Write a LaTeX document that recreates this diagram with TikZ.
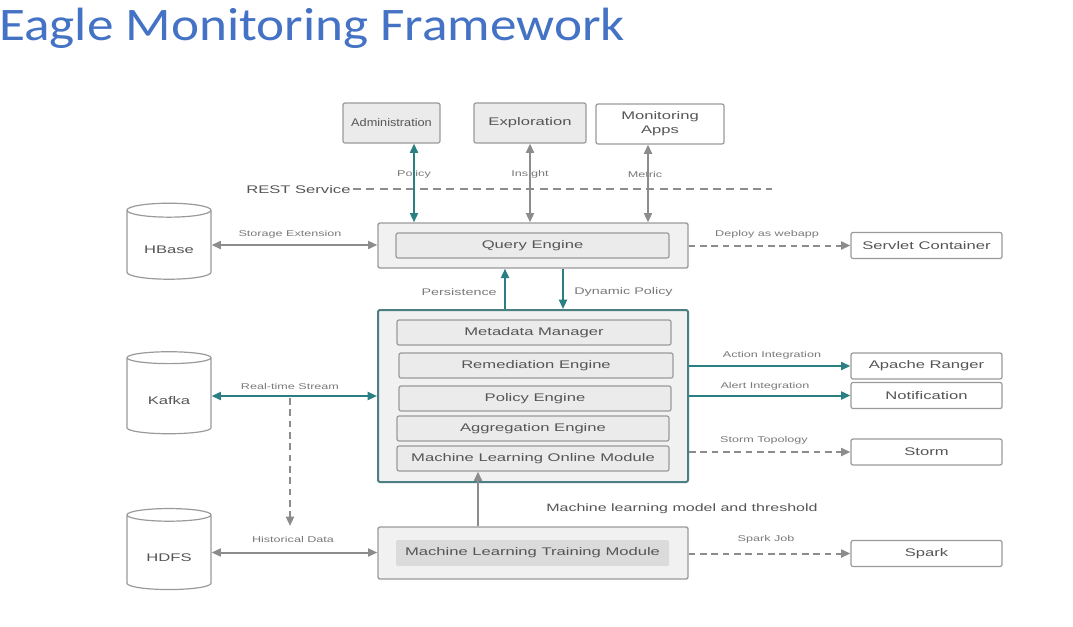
\documentclass[tikz,border=0pt]{standalone}
\usepackage{fontspec}
\setmainfont[FakeStretch=1.5]{Liberation Sans}
\newfontfamily\admfont[FakeStretch=1.15]{Liberation Sans}
\newfontfamily\titlefont[FakeStretch=1.14]{Carlito}
\usetikzlibrary{arrows.meta,shapes.geometric,calc}
\definecolor{teal1}{HTML}{2A7F82}
\definecolor{gline}{HTML}{8C8C8C}
\definecolor{gtext}{HTML}{555555}
\definecolor{ltext}{HTML}{7A7A7A}
\definecolor{boxfill}{HTML}{EBEBEB}
\definecolor{boxdraw}{HTML}{9A9A9A}
\definecolor{titleblue}{HTML}{4472C4}
\newcommand{\cyltext}[1]{\raisebox{-6.5pt}[0pt][0pt]{#1}}
\begin{document}
\begin{tikzpicture}[x=0.75pt,y=-0.75pt,
  box/.style={draw=boxdraw,line width=0.9pt,rounded corners=1.5pt,fill=boxfill,text=gtext,font=\fontsize{8.3}{10.5}\selectfont,inner sep=0pt,align=center},
  wbox/.style={box,fill=white},
  outer/.style={draw=boxdraw,line width=1pt,rounded corners=1.5pt,fill=boxfill!70!white,inner sep=0pt},
  inner/.style={box,fill=boxfill},
  cyl/.style={cylinder,shape border rotate=90,aspect=0.28,draw=boxdraw,line width=0.9pt,fill=white,text=gtext,font=\fontsize{8.3}{9}\selectfont,inner sep=0pt,minimum width=63pt},
  lbl/.style={text=ltext,font=\fontsize{6.3}{7}\selectfont,inner sep=0pt},
  gar/.style={draw=gline,line width=1.5pt,-{Triangle[length=7pt,width=6pt]}},
  gbi/.style={draw=gline,line width=1.5pt,{Triangle[length=7pt,width=6pt]}-{Triangle[length=7pt,width=6pt]}},
  tar/.style={draw=teal1,line width=1.5pt,-{Triangle[length=7pt,width=6pt]}},
  tbi/.style={draw=teal1,line width=1.5pt,{Triangle[length=7pt,width=6pt]}-{Triangle[length=7pt,width=6pt]}},
  dar/.style={gar,dash pattern=on 5pt off 3.5pt},
]
\useasboundingbox[fill=white] (0,0) rectangle (1073,626);
% title
\node[anchor=base west,text=titleblue,font=\titlefont\fontsize{35}{40}\selectfont,inner sep=0pt] (title) at (-1,40) {Eagle Monitoring Framework};

% top boxes
\node[box,font=\admfont\fontsize{8.3}{10.5}\selectfont,minimum width=72.75pt,minimum height=30pt] (adm) at (391.5,123) {Administration};
\node[box,minimum width=84pt,minimum height=30pt] (exp) at (530,123) {Exploration};
\node[wbox,minimum width=96pt,minimum height=30pt] (mon) at (660,124) {Monitoring\\Apps};

% REST service
\node[anchor=west,text=gtext,font=\fontsize{8.3}{9}\selectfont,inner sep=0pt] (rest) at (246,190) {REST Service};
\coordinate (rs1) at (353,189);
\coordinate (rs2) at (772,189);
\draw[gline,line width=1.2pt,dash pattern=on 6pt off 4pt] (rs1) -- (rs2);

% query engine
\node[outer,minimum width=232.5pt,minimum height=33.75pt] (qeo) at (533,245.5) {};
\node[inner,minimum width=204.75pt,minimum height=18.75pt] (qei) at (532.5,245.5) {Query Engine};

% main box
\node[outer,draw=teal1!60!gray,line width=1.5pt,minimum width=232.5pt,minimum height=129pt] (main) at (533,396) {};
\node[inner,minimum width=205.5pt,minimum height=18.75pt] (mm) at (534,332.5) {Metadata Manager};
\node[inner,minimum width=205.5pt,minimum height=18.75pt] (re) at (536,365.5) {Remediation Engine};
\node[inner,minimum width=204pt,minimum height=18.75pt] (pe) at (535,398.5) {Policy Engine};
\node[inner,minimum width=204pt,minimum height=18.75pt] (ae) at (533,428.5) {Aggregation Engine};
\node[inner,minimum width=204pt,minimum height=18.75pt] (mlo) at (533,458.5) {Machine Learning Online Module};

% training module
\node[outer,minimum width=232.5pt,minimum height=39pt] (mlto) at (533,553) {};
\node[box,draw=none,fill=boxfill!85!gray,minimum width=204.75pt,minimum height=19.5pt] (mlti) at (532.5,553) {Machine Learning Training Module};

% right boxes
\node[wbox,minimum width=113.25pt,minimum height=19.5pt] (servlet) at (926.5,245.5) {Servlet Container};
\node[wbox,minimum width=113.25pt,minimum height=19.5pt] (ranger) at (926.5,366) {Apache Ranger};
\node[wbox,minimum width=113.25pt,minimum height=19.5pt] (notif) at (926.5,395.5) {Notification};
\node[wbox,minimum width=113.25pt,minimum height=19.5pt] (storm) at (926.5,452) {Storm};
\node[wbox,minimum width=113.25pt,minimum height=19.5pt] (spark) at (926.5,553.5) {Spark};

% cylinders
\node[cyl,minimum height=57pt] (hbase) at (169,245) {\cyltext{HBase}};
\node[cyl,minimum height=61.5pt] (kafka) at (169,396) {\cyltext{Kafka}};
\node[cyl,minimum height=60.75pt] (hdfs) at (169,552.5) {\cyltext{HDFS}};

% top labels (arrows drawn over them)
\node[lbl] (lpol) at (414,174) {Policy};
\node[lbl] (lins) at (530,174) {Insight};
\node[lbl] (lmet) at (645,174) {Metric};

% top arrows
\coordinate (pA) at ($(adm.south)+(22.5,0)$);
\coordinate (pM) at ($(mon.south)+(-12,0)$);
\draw[tbi] (pA) -- (pA |- qeo.north);
\draw[gbi] (exp.south) -- (exp.south |- qeo.north);
\draw[gbi] (pM) -- (pM |- qeo.north);

% left arrows
\draw[gbi] (hbase.east) -- (hbase.east -| qeo.west);
\node[lbl] (lse) at (290,234) {Storage Extension};
\draw[tbi] (kafka.east) -- (kafka.east -| main.west);
\node[lbl] (lrt) at (290,386) {Real-time Stream};
\coordinate (rtsplit) at (290,398);
\coordinate (rtend) at (290,526);
\draw[dar] (rtsplit) -- (rtend);
\draw[gbi] (hdfs.east) -- (hdfs.east -| mlto.west);
\node[lbl] (lhd) at (293,539) {Historical Data};

% middle arrows
\draw[tar] (main.north -| 505,0) -- (qeo.south -| 505,0);
\draw[tar] (qeo.south -| 563,0) -- (main.north -| 563,0);
\node[lbl,font=\fontsize{7.2}{8}\selectfont,anchor=east] (lper) at (497,292) {Persistence};
\node[lbl,font=\fontsize{7.2}{8}\selectfont,anchor=west] (ldyn) at (574,292) {Dynamic Policy};
\draw[gar] (mlto.north -| 478,0) -- (mlo.south -| 478,0);
\node[lbl,font=\fontsize{8}{9}\selectfont,anchor=west,text=gtext] (lmlm) at (546,509) {Machine learning model and threshold};

% right arrows
\draw[dar] (qeo.east |- servlet.west) -- (servlet.west);
\node[lbl] (ldep) at (767,234) {Deploy as webapp};
\draw[tar] (main.east |- ranger.west) -- (ranger.west);
\node[lbl] (lact) at (772,355) {Action Integration};
\draw[tar] (main.east |- notif.west) -- (notif.west);
\node[lbl] (lale) at (765,386) {Alert Integration};
\draw[dar] (main.east |- storm.west) -- (storm.west);
\node[lbl] (lsto) at (764,440) {Storm Topology};
\draw[dar] (mlto.east |- spark.west) -- (spark.west);
\node[lbl] (lspk) at (766,539) {Spark Job};
\end{tikzpicture}
\end{document}
